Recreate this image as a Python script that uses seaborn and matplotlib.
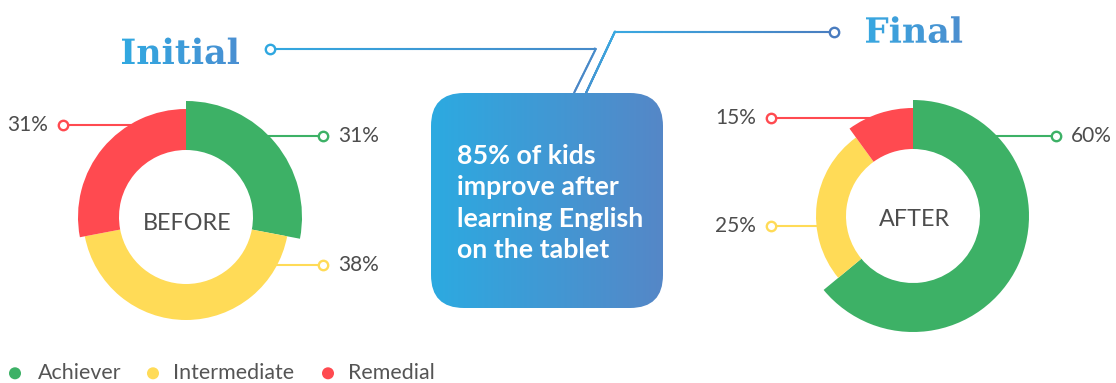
import numpy as np
import pandas as pd
import matplotlib
matplotlib.use("Agg")
import matplotlib.pyplot as plt
import seaborn as sns
from matplotlib.patches import Wedge, FancyBboxPatch, PathPatch
from matplotlib.textpath import TextPath
from matplotlib.font_manager import FontProperties
from matplotlib.transforms import Affine2D
from matplotlib.collections import LineCollection
from matplotlib.colors import LinearSegmentedColormap, to_rgb

# ---------------- data ----------------
categories = ["Achiever", "Intermediate", "Remedial"]
before_share = [28, 44, 28]          # arc shares as drawn
after_share = [64, 26, 10]
before_labels = ["31%", "38%", "31%"]
after_labels = ["60%", "25%", "15%"]
stage_names = ["BEFORE", "AFTER"]
titles = ["Initial", "Final"]
message_lines = ["85% of kids", "improve after", "learning English", "on the tablet"]

# ---------------- style / layout ----------------
palette = {"Achiever": "#3DB166", "Intermediate": "#FFDB57", "Remedial": "#FF4A50"}
TXT = "#4D4D4D"
W, H = 1116, 383

sns.set_theme(style="white")
plt.rcParams['font.family'] = ['Lato', 'DejaVu Sans']

fig = plt.figure(figsize=(W / 100, H / 100), dpi=100)
ax = fig.add_axes([0, 0, 1, 1])
ax.axis('off')

R_IN = 67
donuts = [
    dict(c=(186, 217), shares=before_share, labels=before_labels, radii=[116, 103, 108],
         label_y=[136, 265, 125], side=[1, 1, -1], mark_x=[323, 323, 63], name=stage_names[0], name_y=223),
    dict(c=(913, 216), shares=after_share, labels=after_labels, radii=[116, 97, 108],
         label_y=[136, 226, 118], side=[1, -1, -1], mark_x=[1056, 771, 771], name=stage_names[1], name_y=220),
]

for d in donuts:
    cx, cy = d["c"]
    total = float(sum(d["shares"]))
    start = 0.0
    for cat, share, r in zip(categories, d["shares"], d["radii"]):
        a0 = start / total * 360.0
        a1 = (start + share) / total * 360.0
        ax.add_patch(Wedge((cx, cy), r, -90 + a0, -90 + a1, width=r - R_IN,
                           facecolor=palette[cat], edgecolor='none', zorder=3))
        start += share
    # leader lines + markers + labels
    for cat, lab, r, ly, side, mx in zip(categories, d["labels"], d["radii"], d["label_y"], d["side"], d["mark_x"]):
        dy = ly - cy
        rr = max((R_IN + r) / 2.0, abs(dy) + 3)
        sx = cx + side * np.sqrt(max(rr ** 2 - dy ** 2, 0))
        ax.plot([sx, mx], [ly, ly], color=palette[cat], lw=1.5, zorder=2, solid_capstyle='butt')
        ax.scatter([mx], [ly], s=46, facecolor='white', edgecolor=palette[cat], linewidth=1.7, zorder=4)
        if side > 0:
            ax.text(mx + 15, ly, lab, ha='left', va='center', fontsize=15, color=TXT, zorder=5)
        else:
            ax.text(mx - 15, ly, lab, ha='right', va='center', fontsize=15, color=TXT, zorder=5)
    ax.text(cx + 1, d["name_y"], d["name"], ha='center', va='center', fontsize=16.8, color=TXT, zorder=5)

# ---------------- centre message box ----------------
bx0, by0, bx1, by1 = 431, 93, 663, 308
box = FancyBboxPatch((bx0, by0), bx1 - bx0, by1 - by0,
                     boxstyle="round,pad=0,rounding_size=33",
                     facecolor='none', edgecolor='none', zorder=3)
ax.add_patch(box)
grad = np.linspace(0, 1, 256).reshape(1, -1)
box_cmap = LinearSegmentedColormap.from_list("box", ["#2CAAE1", "#5587C7"])
im = ax.imshow(grad, cmap=box_cmap, extent=[bx0, bx1, by1, by0], aspect='auto', zorder=3,
               interpolation='bilinear')
im.set_clip_path(box)
for i, line in enumerate(message_lines):
    ax.text(457, 163.5 + i * 31.6, line, ha='left', va='baseline', fontsize=19.3,
            fontweight='bold', color='white', zorder=6)

# ---------------- connector lines ----------------
def gradient_polyline(pts, c0, c1, lw=1.5, n=200):
    pts = np.asarray(pts, float)
    seg_len = np.hypot(*np.diff(pts, axis=0).T)
    cum = np.concatenate([[0], np.cumsum(seg_len)])
    t = np.linspace(0, cum[-1], n)
    xs = np.interp(t, cum, pts[:, 0])
    ys = np.interp(t, cum, pts[:, 1])
    P = np.column_stack([xs, ys]).reshape(-1, 1, 2)
    segs = np.concatenate([P[:-1], P[1:]], axis=1)
    a, b = np.array(to_rgb(c0)), np.array(to_rgb(c1))
    f = np.linspace(0, 1, n - 1)[:, None]
    cols = a * (1 - f) + b * f
    ax.add_collection(LineCollection(segs, colors=cols, linewidths=lw, zorder=2,
                                     capstyle='round', joinstyle='round'))

gradient_polyline([(270, 48.5), (596, 48.5), (574, 93)], "#33A8E0", "#4A86C6")
gradient_polyline([(615, 31.5), (834, 31.5)], "#3AA9E1", "#4A7EC0")
gradient_polyline([(615, 31.5), (586, 93)], "#3AA9E1", "#4593D0")
ax.scatter([270], [48.5], s=46, facecolor='white', edgecolor="#2FA7E0", linewidth=1.7, zorder=4)
ax.scatter([834], [31.5], s=46, facecolor='white', edgecolor="#4A7CBF", linewidth=1.7, zorder=4)

# ---------------- gradient titles ----------------
title_fp = FontProperties(family='DejaVu Serif', weight='bold')

def gradient_text(s, x, base, size, c0, c1):
    tp = TextPath((0, 0), s, size=size, prop=title_fp)
    path = Affine2D().scale(1, -1).translate(x, base).transform_path(tp)
    bb = path.get_extents()
    patch = PathPatch(path, facecolor='none', edgecolor='none', zorder=4)
    ax.add_patch(patch)
    cmap = LinearSegmentedColormap.from_list("t", [c0, c1])
    tim = ax.imshow(grad, cmap=cmap, extent=[bb.x0, bb.x1, bb.y1, bb.y0], aspect='auto',
                    zorder=4, interpolation='bilinear')
    tim.set_clip_path(patch)

gradient_text(titles[0], 120, 64, 34.8, "#31A9E1", "#4A8FD2")
gradient_text(titles[1], 864, 42.7, 34.8, "#38A8E1", "#4C8ECF")

# ---------------- legend ----------------
legend_x = [15, 153, 328]
legend_tx = [38, 173, 348]
leg_df = pd.DataFrame({"x": legend_x, "y": [373.3] * 3, "cat": categories})
sns.scatterplot(data=leg_df, x="x", y="y", hue="cat", palette=palette, s=75,
                edgecolor='none', legend=False, ax=ax, zorder=5)
for cat, tx in zip(categories, legend_tx):
    ax.text(tx, 373.3, cat, ha='left', va='center', fontsize=15.4, color="#555555", zorder=5)

ax.set_xlim(0, W)
ax.set_ylim(H, 0)
ax.set_xlabel("")
ax.set_ylabel("")
ax.axis('off')
fig.savefig("out.png", dpi=100)
